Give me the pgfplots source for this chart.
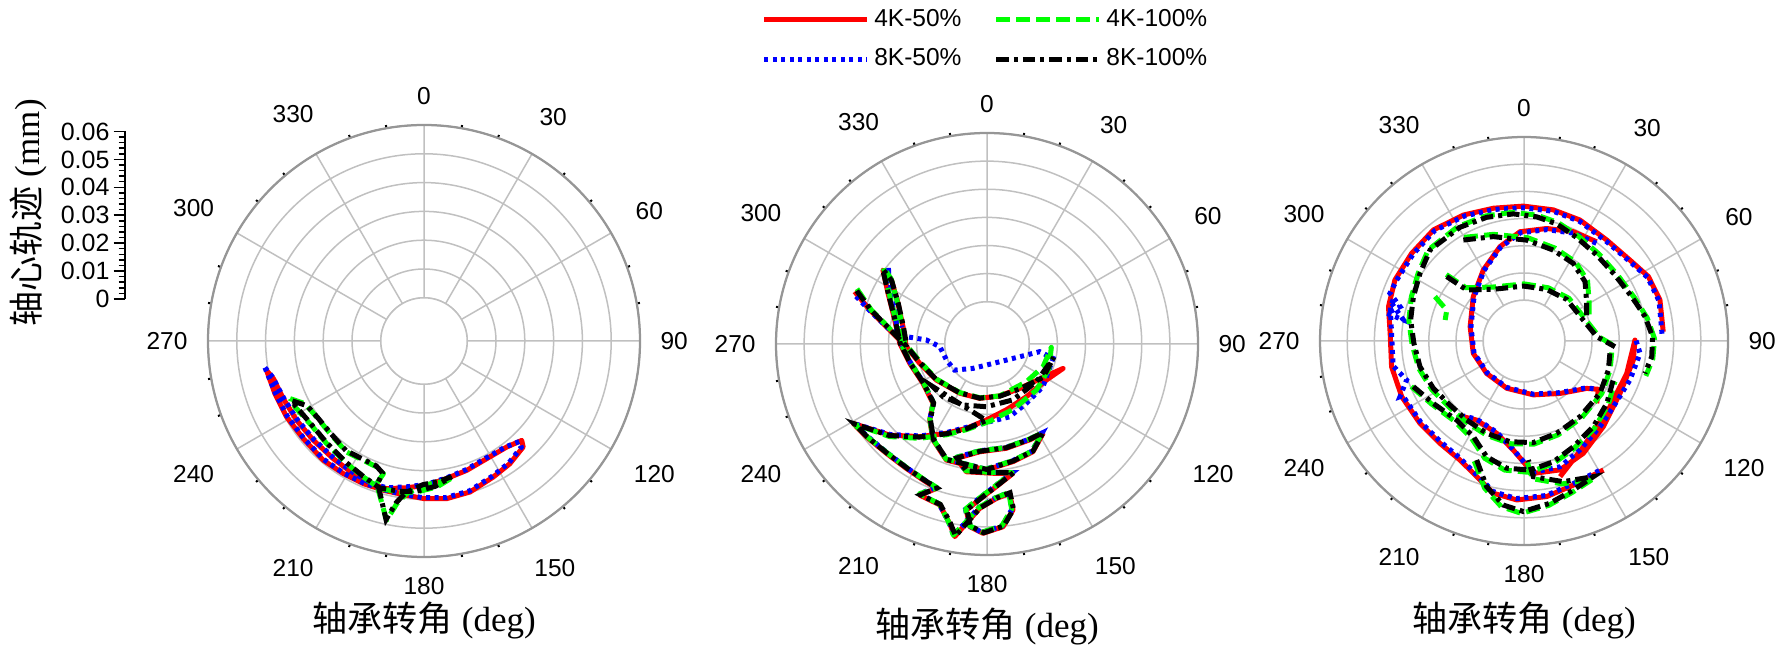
\documentclass[border=0pt]{standalone}
\usepackage{fontspec}
\setmainfont{Liberation Sans}
\newfontfamily\cjk{Noto Sans CJK SC}
\newfontfamily\tnr{Liberation Serif}
\usepackage{pgfplots}
\usepackage{pgfplotstable}
\pgfplotsset{compat=1.18}
\usepgfplotslibrary{polar}

\definecolor{pgreen}{RGB}{0,255,0}
\definecolor{gridgray}{RGB}{192,192,192}
\definecolor{rimgray}{RGB}{150,150,150}

% ---------- orbit data: angle (deg, clockwise from top), radius (mm) ----------
% case 1
\pgfplotstableread{
t r
259.4 0.0406
250.5 0.0399
241.0 0.0395
231.0 0.0389
220.2 0.0392
211.3 0.0389
203.0 0.0388
195.2 0.0387
188.3 0.0388
180.2 0.0397
171.8 0.0403
163.0 0.0398
153.0 0.0380
145.0 0.0370
136.9 0.0354
135.5 0.0334
142.0 0.0317
152.0 0.0313
161.7 0.0323
170.7 0.0334
178.9 0.0351
186.7 0.0363
194.2 0.0379
200.7 0.0380
208.0 0.0372
217.6 0.0366
228.1 0.0366
238.1 0.0371
247.7 0.0378
256.0 0.0389
259.4 0.0406
}\pAred
\pgfplotstableread{
t r
260.5 0.0410
250.8 0.0397
241.3 0.0392
231.2 0.0387
220.5 0.0389
211.5 0.0387
203.2 0.0386
195.5 0.0385
188.5 0.0387
180.5 0.0394
172.0 0.0399
163.2 0.0394
153.3 0.0376
145.3 0.0366
137.5 0.0350
136.5 0.0331
142.5 0.0314
152.3 0.0310
161.8 0.0320
170.8 0.0332
179.0 0.0348
186.8 0.0360
194.3 0.0376
200.8 0.0377
208.1 0.0369
217.7 0.0363
228.2 0.0363
238.2 0.0368
247.8 0.0376
256.5 0.0390
260.5 0.0410
}\pAblue
\pgfplotstableread{
t r
246.7 0.0356
242.2 0.0317
234.7 0.0307
225.4 0.0308
214.9 0.0320
206.9 0.0315
200.6 0.0317
197.0 0.0332
198.4 0.0372
191.8 0.0486
189.5 0.0423
186.5 0.0383
180.3 0.0351
173.5 0.0343
167.8 0.0333
175.0 0.0359
182.8 0.0375
189.0 0.0381
196.6 0.0385
204.0 0.0367
212.2 0.0353
223.5 0.0341
234.0 0.0339
242.9 0.0353
246.7 0.0356
}\pAgreen
\pgfplotstableread{
t r
245.5 0.0352
241.0 0.0314
234.0 0.0305
225.0 0.0306
215.5 0.0317
207.5 0.0312
201.0 0.0314
197.5 0.0330
198.0 0.0370
192.0 0.0484
189.8 0.0420
186.8 0.0380
180.5 0.0349
174.0 0.0340
168.5 0.0331
175.5 0.0356
183.0 0.0373
189.3 0.0379
196.8 0.0383
204.2 0.0365
212.5 0.0351
223.8 0.0339
234.3 0.0337
243.2 0.0350
245.5 0.0352
}\pAblack

% case 2
\pgfplotstableread{
t r
291.6 0.0356
286.2 0.0284
278.2 0.0200
268.1 0.0137
254.0 0.0099
234.6 0.0071
209.0 0.0050
187.7 0.0045
166.3 0.0040
143.6 0.0046
120.8 0.0082
107.8 0.0134
121.2 0.0097
143.2 0.0084
163.7 0.0094
180.5 0.0120
193.8 0.0159
204.5 0.0199
216.0 0.0257
226.9 0.0324
239.3 0.0403
232.5 0.0391
222.6 0.0378
213.0 0.0377
205.2 0.0384
199.3 0.0394
204.0 0.0438
196.4 0.0446
191.8 0.0501
189.5 0.0544
186.6 0.0492
182.6 0.0435
176.5 0.0400
171.4 0.0387
171.1 0.0447
175.0 0.0502
181.2 0.0523
185.4 0.0502
187.1 0.0445
181.5 0.0393
176.3 0.0358
168.6 0.0319
177.3 0.0310
189.2 0.0310
195.0 0.0271
183.9 0.0234
169.5 0.0227
156.0 0.0223
147.9 0.0225
156.9 0.0266
167.5 0.0278
180.3 0.0298
199.3 0.0287
209.4 0.0241
217.0 0.0188
222.3 0.0135
238.4 0.0117
256.0 0.0133
270.4 0.0160
284.6 0.0189
297.1 0.0245
305.4 0.0304
303.8 0.0259
294.6 0.0198
281.7 0.0155
268.1 0.0137
}\pBred
\pgfplotstableread{
t r
290.0 0.0345
285.5 0.0278
279.0 0.0205
275.2 0.0138
273.8 0.0066
266.8 0.0018
248.5 0.0005
231.2 -0.0002
209.9 -0.0050
153.4 -0.0076
111.2 -0.0025
98.3 0.0039
102.3 0.0090
127.3 0.0100
146.5 0.0103
162.7 0.0121
193.8 0.0155
204.5 0.0196
216.0 0.0254
226.9 0.0321
239.0 0.0400
232.8 0.0388
222.9 0.0375
213.3 0.0374
205.5 0.0381
199.6 0.0391
204.3 0.0435
196.7 0.0443
192.1 0.0498
189.8 0.0540
186.9 0.0489
182.9 0.0432
176.8 0.0397
171.7 0.0384
171.4 0.0444
175.3 0.0499
181.5 0.0520
185.7 0.0499
187.4 0.0442
181.8 0.0390
176.6 0.0355
168.9 0.0316
177.6 0.0307
189.5 0.0307
195.3 0.0268
184.2 0.0231
169.8 0.0224
156.3 0.0220
148.2 0.0222
157.2 0.0263
167.8 0.0275
180.6 0.0295
199.6 0.0284
209.7 0.0238
217.3 0.0185
222.6 0.0132
238.7 0.0114
256.3 0.0130
270.7 0.0157
284.9 0.0186
297.4 0.0242
308.0 0.0295
303.0 0.0265
294.0 0.0203
281.0 0.0158
}\pBblue
\pgfplotstableread{
t r
293.0 0.0352
286.5 0.0280
278.5 0.0196
268.0 0.0132
254.5 0.0095
235.0 0.0068
209.5 0.0048
187.5 0.0043
166.0 0.0040
133.8 0.0044
112.0 0.0065
93.0 0.0079
112.0 0.0087
133.0 0.0090
158.0 0.0100
178.0 0.0125
193.5 0.0163
204.0 0.0203
215.5 0.0262
226.5 0.0328
238.8 0.0400
232.0 0.0388
222.3 0.0375
212.8 0.0374
205.0 0.0381
199.0 0.0391
204.3 0.0434
196.6 0.0443
192.2 0.0497
190.0 0.0540
186.9 0.0489
182.9 0.0432
176.8 0.0397
171.7 0.0384
171.5 0.0443
175.3 0.0498
181.5 0.0519
185.7 0.0498
187.4 0.0441
181.8 0.0390
176.6 0.0355
168.9 0.0316
177.6 0.0307
189.5 0.0307
195.3 0.0268
184.2 0.0231
169.8 0.0224
156.3 0.0220
148.2 0.0222
157.2 0.0263
167.8 0.0275
180.6 0.0295
199.6 0.0284
209.7 0.0238
217.3 0.0185
222.6 0.0132
238.7 0.0114
256.3 0.0130
270.7 0.0157
284.9 0.0186
297.4 0.0242
306.5 0.0308
304.2 0.0262
294.9 0.0201
282.0 0.0158
268.4 0.0140
}\pBgreen
\pgfplotstableread{
t r
292.2 0.0350
286.4 0.0281
278.4 0.0198
268.2 0.0135
254.3 0.0097
234.8 0.0070
209.2 0.0049
187.6 0.0044
166.2 0.0041
143.6 0.0048
120.8 0.0082
101.3 0.0092
127.4 0.0071
155.1 0.0069
180.6 0.0073
201.5 0.0083
219.9 0.0094
231.7 0.0095
180.5 0.0122
193.8 0.0161
204.5 0.0201
216.0 0.0259
226.9 0.0326
239.0 0.0401
232.3 0.0389
222.4 0.0376
212.9 0.0375
205.1 0.0382
199.2 0.0392
203.8 0.0436
196.2 0.0444
191.6 0.0499
189.3 0.0541
186.4 0.0490
182.4 0.0433
176.3 0.0398
171.2 0.0385
170.9 0.0445
174.8 0.0500
181.0 0.0521
185.2 0.0500
186.9 0.0443
181.3 0.0391
176.1 0.0356
168.4 0.0317
177.1 0.0308
189.0 0.0308
194.8 0.0269
183.7 0.0232
169.3 0.0225
155.8 0.0221
147.7 0.0223
156.7 0.0264
167.3 0.0276
180.1 0.0296
199.1 0.0285
209.2 0.0239
216.8 0.0186
222.1 0.0133
238.2 0.0115
255.8 0.0131
270.2 0.0158
284.4 0.0187
296.9 0.0243
305.6 0.0306
303.6 0.0257
294.4 0.0196
281.5 0.0153
267.9 0.0135
}\pBblack

% case 3
\pgfplotstableread{
t r
86.2 0.0363
73.2 0.0372
62.6 0.0365
52.6 0.0340
39.3 0.0330
24.8 0.0340
12.6 0.0344
359.7 0.0346
347.0 0.0351
334.3 0.0364
320.8 0.0377
307.9 0.0374
295.3 0.0375
284.2 0.0364
273.3 0.0343
259.0 0.0346
245.5 0.0344
231.6 0.0338
219.4 0.0337
208.3 0.0347
199.2 0.0378
191.4 0.0421
182.6 0.0435
171.7 0.0428
161.1 0.0410
148.4 0.0407
nan nan
36.2 0.0302
24.3 0.0291
11.4 0.0272
357.9 0.0252
345.7 0.0208
330.2 0.0151
311.2 0.0098
284.9 0.0055
256.3 0.0042
229.1 0.0032
200.1 0.0035
170.2 0.0051
145.5 0.0084
127.1 0.0139
123.0 0.0176
130.6 0.0202
nan nan
165.1 0.0366
150.7 0.0296
127.4 0.0248
107.5 0.0246
89.5 0.0258
99.9 0.0258
118.6 0.0252
137.2 0.0279
152.2 0.0317
164.4 0.0342
176.0 0.0338
185.6 0.0253
196.5 0.0204
210.9 0.0189
218.7 0.0207
}\pCred
\pgfplotstableread{
t r
87.0 0.0358
73.5 0.0368
62.8 0.0361
52.8 0.0336
39.5 0.0325
25.0 0.0335
12.8 0.0339
359.9 0.0340
347.2 0.0346
334.5 0.0359
321.0 0.0372
308.1 0.0368
295.5 0.0369
289.6 0.0373
285.5 0.0323
281.4 0.0365
279.9 0.0300
285.9 0.0356
284.4 0.0358
273.5 0.0338
259.2 0.0340
251.6 0.0305
245.8 0.0350
245.7 0.0339
231.8 0.0333
219.6 0.0331
208.5 0.0341
199.4 0.0372
191.6 0.0415
182.8 0.0430
171.9 0.0424
161.3 0.0405
148.6 0.0402
nan nan
36.5 0.0297
24.5 0.0286
11.6 0.0268
358.1 0.0248
345.9 0.0205
330.4 0.0148
311.4 0.0095
285.1 0.0052
256.5 0.0039
229.3 0.0029
200.3 0.0032
170.4 0.0048
145.7 0.0080
127.3 0.0135
123.2 0.0172
nan nan
89.8 0.0262
96.1 0.0279
110.2 0.0265
126.3 0.0258
138.4 0.0271
152.8 0.0300
164.0 0.0331
176.2 0.0334
185.8 0.0250
196.7 0.0200
211.1 0.0186
218.9 0.0204
}\pCblue
\pgfplotstableread{
t r
97.5 0.0175
108.5 0.0184
124.0 0.0195
143.0 0.0203
160.0 0.0217
174.5 0.0231
187.5 0.0231
201.5 0.0223
215.5 0.0216
228.5 0.0217
242.0 0.0233
255.5 0.0250
268.5 0.0262
280.0 0.0280
291.5 0.0295
302.5 0.0312
313.5 0.0336
330.0 0.0336
343.0 0.0331
355.0 0.0325
6.0 0.0315
16.0 0.0303
27.5 0.0284
41.0 0.0272
55.0 0.0271
68.5 0.0286
79.5 0.0311
89.0 0.0330
98.0 0.0328
106.0 0.0316
nan nan
310.5 0.0226
312.5 0.0140
330.0 0.0079
0.0 0.0060
24.5 0.0065
46.5 0.0078
71.0 0.0090
87.0 0.0127
94.0 0.0193
nan nan
330.0 0.0290
344.0 0.0258
2.0 0.0230
18.5 0.0210
33.0 0.0197
46.5 0.0172
59.5 0.0128
70.5 0.0104
nan nan
248.0 0.0297
236.0 0.0262
221.0 0.0240
208.5 0.0256
198.5 0.0305
188.5 0.0330
178.0 0.0333
167.0 0.0315
155.5 0.0287
141.5 0.0263
127.5 0.0239
114.0 0.0216
nan nan
202.5 0.0328
195.0 0.0410
187.8 0.0465
180.8 0.0484
171.4 0.0461
162.2 0.0434
153.4 0.0417
165.0 0.0394
176.6 0.0357
178.4 0.0296
nan nan
296.5 0.0216
291.8 0.0156
284.9 0.0150
}\pCgreen
\pgfplotstableread{
t r
98.2 0.0169
109.0 0.0178
124.5 0.0189
143.5 0.0196
160.5 0.0210
174.8 0.0225
187.9 0.0224
202.0 0.0216
216.0 0.0209
229.1 0.0210
242.4 0.0226
256.1 0.0244
268.8 0.0255
280.5 0.0274
291.8 0.0288
303.0 0.0306
314.1 0.0331
330.6 0.0330
343.2 0.0325
355.2 0.0319
5.8 0.0309
15.6 0.0297
26.9 0.0277
40.2 0.0264
54.0 0.0263
67.6 0.0278
78.6 0.0304
88.1 0.0323
97.0 0.0323
105.0 0.0310
nan nan
309.8 0.0220
311.7 0.0132
329.3 0.0071
359.3 0.0052
23.7 0.0057
45.7 0.0069
70.5 0.0081
86.6 0.0118
93.6 0.0185
nan nan
329.0 0.0283
343.6 0.0250
1.5 0.0221
17.9 0.0201
32.4 0.0188
45.8 0.0163
59.0 0.0119
70.1 0.0095
nan nan
247.6 0.0290
235.5 0.0255
220.4 0.0232
207.9 0.0248
197.9 0.0297
187.8 0.0322
177.3 0.0325
166.3 0.0307
155.0 0.0279
141.0 0.0255
127.0 0.0231
113.6 0.0208
nan nan
201.7 0.0321
194.4 0.0403
187.2 0.0458
180.2 0.0477
170.9 0.0454
161.7 0.0427
152.9 0.0410
164.4 0.0387
176.1 0.0350
177.9 0.0288
}\pCblack

% ---------- styles ----------
\pgfplotsset{
  s4k50/.style={red, line width=2pt, line join=round, solid},
  s4k100/.style={pgreen, line width=2pt, line join=round, dash pattern=on 5.5pt off 2.5pt},
  s8k50/.style={blue, line width=2pt, dash pattern=on 1.6pt off 1.8pt},
  s8k100/.style={black, line width=2pt, dash pattern=on 5pt off 2pt on 1.6pt off 2pt},
  orbitaxis/.style={
    scale only axis, anchor=center,
    xmin=0, xmax=360, ymin=0, ymax=0.075,
    scaled ticks=false,
    xtick={0,30,...,330},
    xticklabels={90,60,30,0,330,300,270,240,210,180,150,120},
    minor x tick num=2,
    ytick={0.015,0.025,0.035,0.045,0.055,0.065,0.075},
    yticklabels={},
    grid=major,
    major grid style={gridgray, line width=0.6pt},
    separate axis lines,
    x axis line style={rimgray, line width=0.9pt},
    y axis line style={draw=none},
    major x tick style={draw=none},
    minor x tick style={black, line width=0.8pt},
    y tick style={draw=none},
    minor tick length=1.3pt,
    tick align=inside,
    xticklabel style={font=\fontsize{9.8}{11}\selectfont, inner sep=8pt},
    unbounded coords=jump,
  },
  table/polarxy/.style={x expr={90-\thisrow{t}}, y expr={\thisrow{r}+0.015}},
}

\newcommand{\xtitle}{{\cjk 轴承转角} {\tnr (deg)}}

\begin{document}
\begin{tikzpicture}
\useasboundingbox (0,0) rectangle (710.8pt,258.8pt);

% radial scale bar
\begin{axis}[
  at={(50pt,139.2pt)}, anchor=south west,
  scale only axis, width=2pt, height=67pt,
  xmin=0, xmax=1, ymin=0, ymax=0.06,
  scaled ticks=false,
  axis x line=none, axis y line=left,
  y axis line style={-, black, line width=0.8pt},
  ytick={0,0.01,0.02,0.03,0.04,0.05,0.06},
  yticklabels={0,0.01,0.02,0.03,0.04,0.05,0.06},
  minor y tick num=4,
  tick align=outside,
  major tick length=4.5pt, minor tick length=2.5pt,
  tick style={black, line width=0.6pt},
  yticklabel style={font=\fontsize{10}{11}\selectfont, inner sep=1.5pt},
]
\end{axis}
\node[rotate=90, font=\fontsize{14}{16}\selectfont] at (11.2pt,173.6pt) {{\cjk 轴心轨迹} {\tnr (mm)}};

% case 1
\begin{polaraxis}[orbitaxis, at={(169.6pt,122.4pt)}, width=172.8pt, height=172.8pt]
  \fill[white] (axis cs:0,0) circle[radius=17.28pt];
  \draw[gridgray, line width=0.6pt] (axis cs:0,0) circle[radius=17.28pt];
  \addplot[s4k50] table[polarxy] {\pAred};
  \addplot[s8k50] table[polarxy] {\pAblue};
  \addplot[s4k100] table[polarxy] {\pAgreen};
  \addplot[s8k100] table[polarxy] {\pAblack};
\end{polaraxis}

% case 2 (carries the legend)
\begin{polaraxis}[orbitaxis, at={(394.8pt,121.2pt)}, width=168.8pt, height=168.8pt,
  legend columns=2,
  legend cell align=left,
  legend image code/.code={\draw[#1] (0pt,0pt) -- (41pt,0pt);},
  legend style={draw=none, fill=none, at={(0.5,1.222)}, anchor=center,
    font=\fontsize{9.8}{11}\selectfont, row sep=3.5pt,
    /tikz/every even column/.append style={column sep=11pt}},
]
  \addlegendimage{s4k50}
  \addlegendimage{s4k100}
  \addlegendimage{s8k50}
  \addlegendimage{s8k100}
  \legend{4K-50\%, 4K-100\%, 8K-50\%, 8K-100\%}
  \fill[white] (axis cs:0,0) circle[radius=16.88pt];
  \draw[gridgray, line width=0.6pt] (axis cs:0,0) circle[radius=16.88pt];
  \addplot[s4k50] table[polarxy] {\pBred};
  \addplot[s8k50] table[polarxy] {\pBblue};
  \addplot[s4k100] table[polarxy] {\pBgreen};
  \addplot[s8k100] table[polarxy] {\pBblack};
\end{polaraxis}

% case 3
\begin{polaraxis}[orbitaxis, at={(609.6pt,122.4pt)}, width=163.2pt, height=163.2pt]
  \fill[white] (axis cs:0,0) circle[radius=16.32pt];
  \draw[gridgray, line width=0.6pt] (axis cs:0,0) circle[radius=16.32pt];
  \addplot[s4k50] table[polarxy] {\pCred};
  \addplot[s8k50] table[polarxy] {\pCblue};
  \addplot[s4k100] table[polarxy] {\pCgreen};
  \addplot[s8k100] table[polarxy] {\pCblack};
\end{polaraxis}

% angle titles
\node[font=\fontsize{14}{16}\selectfont] at (169.6pt,10.4pt) {\xtitle};
\node[font=\fontsize{14}{16}\selectfont] at (394.8pt,8pt) {\xtitle};
\node[font=\fontsize{14}{16}\selectfont] at (609.6pt,10.4pt) {\xtitle};
\end{tikzpicture}
\end{document}
